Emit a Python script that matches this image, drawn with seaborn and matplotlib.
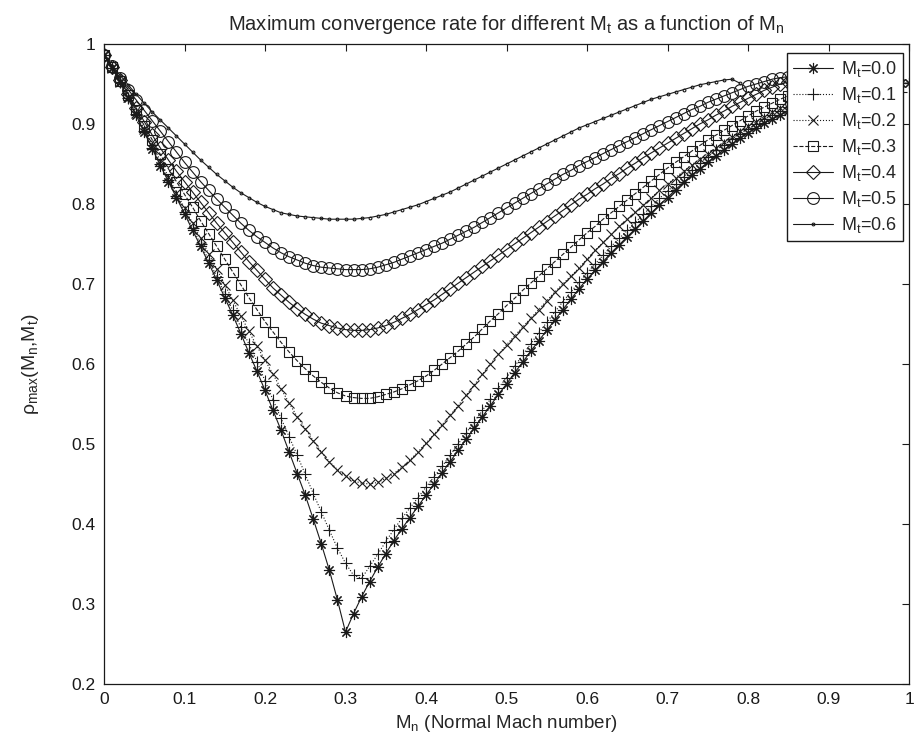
import numpy as np
import pandas as pd
import matplotlib
matplotlib.use("Agg")
import matplotlib.pyplot as plt
import seaborn as sns

mt00 = [.986, .970, .952, .932, .911, .890, .869, .848, .828, .808,
        .788, .767, .747, .726, .705, .683, .661, .638, .614, .591,
        .567, .542, .517, .490, .463, .436, .406, .375, .342, .305,
        .265, .288, .309, .328, .346, .363, .379, .394, .408, .422,
        .436, .450, .464, .478, .492, .506, .520, .534, .548, .562,
        .575, .589, .602, .616, .629, .642, .655, .668, .681, .694,
        .706, .717, .728, .739, .749, .759, .769, .779, .789, .799,
        .808, .818, .827, .836, .844, .852, .860, .868, .875, .882,
        .889, .895, .901, .906, .911, .916, .921, .926, .930, .934,
        .937, .940, .943, .945, .947, .948, .949, .950, .951, .951, .951]
mt01 = [.986, .970, .952, .933, .912, .891, .870, .850, .830, .810,
        .790, .770, .750, .730, .709, .688, .667, .646, .625, .603,
        .579, .555, .532, .509, .486, .462, .438, .415, .392, .370,
        .351, .336, .332, .347, .362, .378, .393, .407, .420, .433,
        .446, .459, .472, .486, .500, .514, .528, .542, .556, .570,
        .583, .597, .611, .625, .639, .652, .665, .678, .690, .702,
        .714, .725, .736, .747, .757, .767, .777, .787, .797, .807,
        .816, .825, .834, .843, .851, .859, .867, .874, .881, .888,
        .894, .900, .906, .911, .916, .921, .925, .929, .933, .936,
        .938, .940, .942, .943, .944, .944, .944, .943, .942, .940]
mt02 = [.986, .970, .953, .934, .914, .894, .874, .854, .834, .814,
        .795, .776, .757, .738, .719, .699, .680, .660, .641, .622,
        .605, .587, .569, .551, .534, .519, .504, .490, .478, .468,
        .460, .454, .451, .450, .452, .457, .463, .471, .480, .490,
        .501, .512, .524, .536, .548, .561, .574, .587, .600, .612,
        .624, .635, .646, .657, .668, .679, .690, .700, .710, .720,
        .731, .742, .752, .762, .772, .781, .790, .799, .808, .817,
        .825, .833, .841, .849, .856, .863, .870, .877, .884, .891,
        .897, .903, .909, .915, .920, .925, .929, .933, .936, .939,
        .941, .943, .944, .945, .945, .945, .944, .943]
mt03 = [.986, .971, .954, .936, .917, .898, .880, .862, .844, .828,
        .812, .796, .779, .763, .747, .731, .715, .699, .683, .668,
        .653, .640, .627, .615, .604, .594, .585, .577, .570, .564,
        .560, .558, .557, .557, .559, .562, .565, .569, .574, .579,
        .585, .592, .600, .608, .616, .625, .634, .644, .654, .663,
        .673, .682, .692, .701, .710, .719, .728, .737, .746, .755,
        .764, .772, .781, .789, .797, .805, .813, .821, .829, .837,
        .845, .852, .859, .866, .873, .880, .886, .892, .898, .904,
        .910, .916, .921, .926, .931, .935, .939, .942, .944, .946,
        .947, .947, .946, .944, .941, .938]
mt04 = [.986, .971, .955, .938, .920, .903, .886, .870, .855, .841,
        .828, .815, .802, .789, .776, .764, .752, .740, .728, .717,
        .706, .695, .686, .677, .669, .662, .656, .651, .648, .645,
        .643, .642, .642, .643, .645, .648, .652, .657, .662, .668,
        .674, .680, .687, .694, .701, .708, .715, .722, .729, .736,
        .743, .750, .757, .764, .771, .778, .785, .792, .799, .806,
        .812, .819, .825, .832, .838, .845, .851, .858, .864, .870,
        .876, .882, .888, .894, .900, .905, .911, .916, .922, .927,
        .932, .937, .942, .946, .950, .953, .955, .956, .956, .955,
        .953, .950]
mt05 = [.986, .972, .957, .943, .930, .917, .904, .891, .878, .865,
        .852, .840, .828, .817, .806, .796, .786, .776, .767, .759,
        .752, .745, .739, .734, .730, .726, .723, .721, .720, .719,
        .718, .718, .718, .719, .721, .724, .727, .731, .735, .739,
        .743, .747, .751, .756, .761, .766, .771, .777, .783, .789,
        .795, .801, .807, .813, .819, .825, .831, .837, .842, .848,
        .853, .858, .863, .868, .873, .878, .883, .888, .893, .898,
        .903, .908, .913, .918, .922, .927, .931, .935, .939, .943,
        .947, .950, .953, .956, .958, .959, .958]
mt06 = [.986, .973, .961, .949, .937, .926, .915, .905, .895, .885,
        .875, .865, .855, .846, .837, .829, .821, .814, .808, .802,
        .797, .793, .789, .787, .785, .784, .783, .782, .781, .781,
        .781, .781, .782, .783, .785, .787, .790, .793, .796, .799,
        .803, .807, .811, .815, .820, .825, .830, .835, .840, .845,
        .850, .855, .860, .865, .870, .875, .880, .885, .890, .895,
        .899, .903, .907, .911, .915, .919, .923, .927, .931, .934,
        .937, .940, .943, .946, .949, .951, .953, .955, .956, .951]

series_values = [mt00, mt01, mt02, mt03, mt04, mt05, mt06]
mt_labels = ["0.0", "0.1", "0.2", "0.3", "0.4", "0.5", "0.6"]
x_ticks = [0, 0.1, 0.2, 0.3, 0.4, 0.5, 0.6, 0.7, 0.8, 0.9, 1]
x_tick_labels = ["0", "0.1", "0.2", "0.3", "0.4", "0.5", "0.6", "0.7", "0.8", "0.9", "1"]
y_ticks = [0.2, 0.3, 0.4, 0.5, 0.6, 0.7, 0.8, 0.9, 1]
y_tick_labels = ["0.2", "0.3", "0.4", "0.5", "0.6", "0.7", "0.8", "0.9", "1"]

sns.set_theme(style="white")
plt.rcParams["font.family"] = ["Liberation Sans", "DejaVu Sans"]
plt.rcParams["mathtext.fontset"] = "custom"
plt.rcParams["mathtext.rm"] = "Liberation Sans"
plt.rcParams["mathtext.it"] = "Liberation Sans:italic"
plt.rcParams["mathtext.default"] = "regular"

styles = [
    dict(marker=(8, 2, 0), linestyle="-", ms=8),
    dict(marker="+", linestyle=":", ms=9),
    dict(marker="x", linestyle=":", ms=7),
    dict(marker="s", linestyle="--", ms=7.5),
    dict(marker="D", linestyle="-", ms=7),
    dict(marker="o", linestyle="-", ms=8.5),
    dict(marker=".", linestyle="-", ms=4),
]

fig = plt.figure(figsize=(9.15, 7.53), dpi=100)
ax = fig.add_axes([104 / 915, 69 / 753, 805 / 915, 640 / 753])

frames = []
for lab, vals in zip(mt_labels, series_values):
    mn = np.round(np.arange(len(vals)) * 0.01, 2)
    frames.append(pd.DataFrame({"Mn": mn, "rho": vals, "Mt": lab}))
df = pd.concat(frames, ignore_index=True)

for lab, st in zip(mt_labels, styles):
    sub = df[df["Mt"] == lab]
    sns.lineplot(data=sub, x="Mn", y="rho", ax=ax, color="k",
                 marker=st["marker"], linestyle=st["linestyle"],
                 markersize=st["ms"], markerfacecolor="none",
                 markeredgecolor="k", markeredgewidth=0.8, linewidth=0.8,
                 estimator=None, sort=False,
                 label="M$_{t}$=" + lab)

ax.set_xlim(0, 1)
ax.set_ylim(0.2, 1)
ax.set_xticks(x_ticks)
ax.set_xticklabels(x_tick_labels)
ax.set_yticks(y_ticks)
ax.set_yticklabels(y_tick_labels)
ax.tick_params(direction="in", top=True, right=True, length=5, width=0.8,
               labelsize=12.5, colors="k", pad=6)
for sp in ax.spines.values():
    sp.set_visible(True)
    sp.set_color("k")
    sp.set_linewidth(0.9)

ax.set_title("Maximum convergence rate for different M$_{t}$ as a function of M$_{n}$",
             fontsize=14.5, pad=10)
ax.set_xlabel("M$_{n}$ (Normal Mach number)", fontsize=13.5, labelpad=4)
ax.set_ylabel(r"$\rho_{max}$(M$_{n}$,M$_{t}$)", fontsize=14, labelpad=22)

leg = ax.legend(loc="upper right", bbox_to_anchor=(0.993, 0.986),
                borderaxespad=0, fancybox=False, framealpha=1,
                edgecolor="k", fontsize=13, handlelength=2.2,
                labelspacing=0.33, borderpad=0.35, handletextpad=0.45)
leg.get_frame().set_linewidth(1.0)

fig.savefig("out.png", dpi=100)
